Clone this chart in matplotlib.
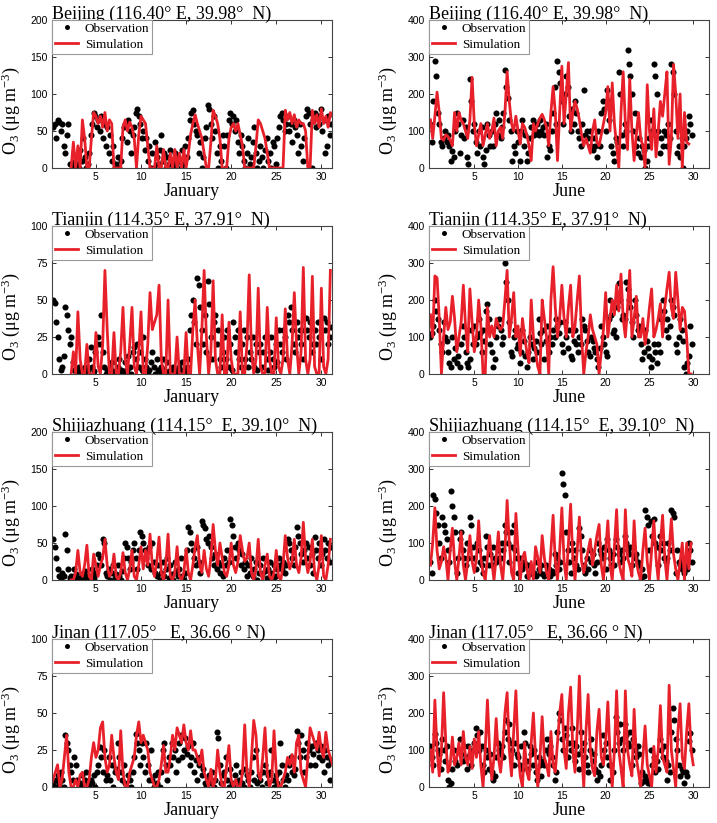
import numpy as np
import matplotlib
matplotlib.use('Agg')
import matplotlib.pyplot as plt

plt.rcParams['font.family'] = 'Liberation Serif'
plt.rcParams['mathtext.fontset'] = 'custom'
plt.rcParams['mathtext.rm'] = 'Liberation Serif'
plt.rcParams['mathtext.it'] = 'Liberation Serif:italic'

# hourly-ish values
# observations: 6 values per day (every 4 h), simulation: 4 per day (every 6 h)

# ---- Beijing, January ----
bj_jan_obs = [
    55, 60, 40, 65, 62, 50, 60, 30, 20, 45, 60, 5,
    5, 0, 8, 15, 5, 0, 25, 10, 40, 15, 0, 5,
    20, 45, 60, 75, 70, 55, 65, 50, 70, 40, 60, 30,
    55, 20, 45, 10, 30, 0, 5, 15, 0, 10, 40, 55,
    60, 35, 65, 50, 20, 45, 55, 75, 80, 70, 60, 40,
    50, 25, 40, 10, 30, 0, 20, 0, 35, 15, 5, 25,
    45, 10, 20, 0, 15, 5, 25, 10, 0, 20, 5, 15,
    10, 0, 25, 5, 30, 15, 40, 65, 75, 78, 60, 50,
    45, 20, 35, 0, 15, 40, 55, 85, 80, 60, 40, 70,
    50, 20, 0, 30, 10, 45, 30, 0, 45, 65, 75, 60,
    70, 50, 65, 35, 20, 45, 30, 10, 0, 20, 40, 5,
    15, 35, 55, 20, 0, 10, 30, 15, 0, 25, 40, 10,
    20, 0, 35, 30, 5, 40, 55, 70, 75, 65, 50, 60,
    70, 50, 60, 35, 65, 55, 45, 20, 60, 30, 10, 40,
    70, 80, 75, 60, 0, 65, 75, 55, 70, 60, 80, 50,
    65, 20, 30, 70, 45, 60]
bj_jan_sim = [
    0, 35, 0, 30, 0, 65, 40, 0, 0, 40, 75, 70,
    60, 70, 55, 75, 50, 65, 60, 0, 0, 0, 0, 55,
    65, 50, 62, 55, 40, 0, 45, 70, 65, 60, 30, 0,
    0, 0, 30, 0, 0, 25, 0, 0, 20, 0, 25, 0,
    20, 0, 25, 0, 20, 45, 60, 72, 60, 50, 40, 20,
    0, 0, 35, 78, 70, 60, 40, 0, 0, 0, 40, 55,
    60, 50, 60, 45, 30, 0, 0, 0, 0, 0, 30, 65,
    60, 50, 40, 20, 0, 0, 0, 0, 0, 0, 0, 78,
    65, 75, 60, 72, 55, 65, 60, 60, 50, 0, 0, 78,
    60, 72, 55, 80, 60, 70, 55, 75, 70]

# ---- Beijing, June ----
bj_jun_obs = [
    120, 70, 180, 290, 250, 150, 120, 70, 60, 80, 100, 70,
    90, 60, 20, 45, 30, 100, 150, 120, 40, 90, 130, 80,
    110, 30, 10, 240, 180, 100, 120, 70, 40, 100, 60, 110,
    30, 10, 50, 120, 90, 60, 100, 60, 120, 150, 90, 130,
    80, 110, 150, 265, 220, 190, 130, 100, 20, 60, 40, 100,
    70, 20, 100, 130, 60, 90, 20, 40, 80, 110, 130, 90,
    100, 120, 90, 130, 100, 110, 90, 120, 30, 60, 50, 100,
    150, 220, 120, 290, 260, 230, 180, 120, 200, 250, 220, 140,
    100, 160, 120, 180, 150, 100, 80, 60, 120, 210, 90, 100,
    80, 100, 60, 50, 80, 60, 30, 100, 60, 150, 180, 160,
    100, 210, 130, 180, 60, 40, 20, 80, 70, 260, 200, 90,
    60, 120, 100, 320, 280, 250, 200, 100, 150, 60, 40, 80,
    30, 60, 50, 0, 20, 60, 80, 130, 100, 280, 250, 200,
    100, 40, 80, 60, 100, 90, 60, 120, 80, 280, 260, 200,
    100, 40, 60, 30, 80, 0, 60, 80, 100, 140, 120, 90]
bj_jun_sim = [
    130, 80, 140, 205, 150, 80, 75, 90, 85, 75, 60, 150,
    100, 150, 130, 120, 100, 80, 130, 245, 120, 60, 90, 120,
    60, 90, 120, 80, 100, 135, 60, 100, 110, 80, 150, 260,
    180, 120, 100, 140, 100, 65, 120, 110, 90, 60, 20, 120,
    100, 120, 135, 145, 130, 110, 60, 150, 220, 150, 20, 150,
    275, 120, 200, 285, 100, 150, 180, 160, 130, 90, 60, 80,
    60, 40, 100, 130, 70, 60, 90, 120, 150, 220, 100, 230,
    120, 60, 0, 150, 260, 120, 50, 240, 100, 20, 90, 150,
    80, 60, 0, 225, 100, 50, 160, 30, 100, 180, 140, 200,
    260, 10, 80, 280, 200, 80, 200, 0, 150, 70, 65]

# ---- Tianjin, January ----
tj_jan_obs = [
    50, 48, 35, 25, 10, 3, 5, 12, 45, 40, 30, 20,
    25, 8, 3, 0, 2, 5, 0, 3, 2, 5, 0, 3,
    10, 18, 5, 2, 15, 20, 25, 20, 40, 15, 5, 0,
    3, 0, 5, 8, 2, 0, 0, 5, 10, 3, 0, 2,
    8, 3, 12, 5, 0, 15, 18, 10, 20, 5, 15, 3,
    25, 10, 5, 0, 3, 8, 15, 5, 0, 10, 3, 2,
    5, 10, 3, 0, 8, 2, 0, 3, 5, 2, 0, 3,
    5, 2, 8, 3, 0, 5, 10, 30, 40, 50, 35, 20,
    65, 60, 45, 30, 20, 40, 15, 63, 47, 25, 10, 35,
    40, 20, 30, 10, 5, 15, 25, 10, 30, 5, 20, 3,
    35, 25, 15, 30, 10, 5, 20, 30, 10, 25, 5, 15,
    10, 25, 5, 20, 3, 15, 20, 5, 15, 25, 10, 3,
    15, 25, 10, 5, 20, 8, 30, 20, 15, 30, 25, 10,
    40, 35, 45, 30, 20, 15, 35, 25, 30, 20, 10, 30,
    38, 30, 25, 35, 15, 20, 30, 20, 35, 25, 10, 30,
    38, 30, 35, 20, 25, 32]
tj_jan_sim = [
    0, 15, 0, 42, 10, 0, 0, 20, 0, 0, 0, 28,
    5, 0, 20, 70, 30, 0, 0, 28, 0, 0, 15, 45,
    10, 0, 20, 45, 5, 0, 15, 42, 0, 0, 20, 55,
    30, 35, 40, 60, 10, 0, 0, 50, 0, 0, 0, 25,
    0, 0, 0, 28, 0, 0, 30, 50, 20, 0, 30, 70,
    25, 0, 15, 63, 10, 0, 0, 40, 0, 0, 35, 10,
    0, 0, 0, 42, 0, 0, 20, 67, 15, 0, 10, 58,
    5, 0, 0, 45, 10, 0, 0, 38, 5, 0, 10, 44,
    10, 0, 20, 55, 20, 0, 15, 72, 10, 0, 10, 66,
    5, 0, 0, 58, 5, 0, 10, 70]

# ---- Tianjin, June ----
tj_jun_obs = [
    100, 110, 130, 200, 170, 150, 120, 80, 60, 140, 100, 90,
    60, 30, 20, 100, 40, 70, 30, 50, 20, 80, 130, 100,
    60, 30, 20, 40, 120, 80, 130, 80, 100, 150, 110, 60,
    120, 90, 170, 190, 150, 80, 60, 20, 40, 100, 130, 150,
    120, 80, 100, 300, 250, 200, 140, 60, 50, 100, 120, 70,
    80, 30, 60, 120, 90, 50, 20, 60, 100, 80, 40, 70,
    90, 60, 150, 110, 80, 120, 40, 90, 130, 60, 100, 80,
    120, 100, 150, 130, 110, 140, 80, 60, 140, 100, 70, 120,
    50, 40, 90, 120, 80, 60, 100, 80, 150, 130, 120, 90,
    60, 50, 100, 90, 70, 60, 40, 20, 70, 130, 100, 80,
    60, 50, 150, 200, 160, 110, 120, 100, 180, 246, 200, 150,
    160, 150, 250, 230, 200, 180, 140, 100, 200, 160, 120, 130,
    80, 40, 60, 120, 90, 70, 50, 20, 40, 80, 60, 30,
    80, 60, 150, 200, 170, 120, 150, 100, 130, 200, 180, 160,
    80, 60, 100, 150, 120, 90, 20, 0, 30, 50, 130, 80]
tj_jun_sim = [
    160, 100, 265, 260, 150, 0, 100, 180, 120, 140, 210, 150,
    60, 100, 140, 240, 130, 60, 230, 140, 60, 100, 200, 130,
    0, 0, 180, 100, 130, 100, 150, 130, 120, 130, 200, 280,
    100, 150, 220, 100, 130, 50, 150, 100, 60, 30, 200, 100,
    60, 20, 0, 200, 150, 100, 0, 200, 290, 180, 100, 150,
    240, 150, 100, 180, 240, 100, 130, 200, 265, 100, 0, 60,
    100, 160, 120, 100, 80, 0, 60, 120, 220, 100, 150, 200,
    160, 240, 170, 270, 150, 100, 180, 280, 100, 150, 210, 100,
    100, 150, 80, 120, 180, 230, 100, 120, 150, 190, 100, 180,
    230, 275, 180, 150, 275, 200, 120, 180, 170, 100, 0, 0]

# ---- Shijiazhuang, January ----
sz_jan_obs = [
    55, 45, 30, 15, 5, 0, 10, 5, 62, 40, 15, 3,
    5, 0, 15, 8, 2, 0, 3, 8, 0, 12, 5, 2,
    0, 5, 15, 3, 10, 20, 35, 30, 20, 55, 50, 10,
    5, 15, 0, 10, 20, 3, 8, 20, 5, 0, 12, 30,
    50, 45, 30, 15, 25, 40, 50, 30, 15, 40, 65, 60,
    50, 40, 30, 20, 45, 15, 50, 25, 10, 5, 20, 0,
    10, 25, 5, 15, 30, 3, 20, 8, 0, 25, 12, 5,
    15, 30, 5, 0, 10, 40, 72, 65, 50, 40, 30, 20,
    45, 25, 10, 80, 75, 70, 55, 50, 60, 45, 30, 20,
    35, 15, 25, 10, 20, 5, 30, 20, 40, 25, 82, 75,
    60, 45, 30, 50, 40, 20, 35, 15, 25, 5, 20, 10,
    30, 5, 15, 25, 0, 10, 20, 8, 30, 12, 3, 15,
    25, 10, 0, 20, 5, 15, 30, 20, 15, 25, 10, 20,
    55, 50, 40, 30, 20, 45, 72, 60, 50, 35, 25, 40,
    50, 30, 45, 20, 35, 10, 58, 40, 30, 50, 20, 35,
    55, 40, 30, 50, 25, 45]
sz_jan_sim = [
    0, 0, 10, 40, 10, 5, 20, 47, 5, 0, 35, 20,
    5, 20, 30, 55, 20, 5, 10, 35, 5, 0, 10, 37,
    10, 0, 15, 40, 5, 0, 20, 45, 15, 40, 20, 62,
    20, 5, 25, 58, 10, 0, 20, 62, 5, 0, 10, 45,
    5, 0, 10, 42, 10, 0, 20, 45, 60, 20, 10, 40,
    15, 5, 30, 75, 40, 20, 50, 30, 10, 5, 20, 50,
    20, 10, 25, 60, 40, 25, 30, 50, 10, 0, 15, 55,
    10, 0, 20, 35, 5, 0, 10, 40, 5, 0, 20, 60,
    30, 15, 25, 55, 20, 10, 30, 78, 30, 10, 25, 55,
    10, 0, 20, 60, 5, 0, 20, 55]

# ---- Shijiazhuang, June ----
sz_jun_obs = [
    50, 20, 230, 220, 180, 150, 100, 60, 170, 150, 130, 110,
    80, 50, 240, 200, 170, 130, 20, 60, 110, 130, 80, 60,
    40, 100, 60, 170, 150, 90, 60, 30, 100, 80, 50, 40,
    20, 60, 120, 90, 40, 70, 40, 90, 60, 50, 80, 60,
    60, 100, 80, 150, 130, 100, 50, 130, 90, 150, 80, 60,
    20, 60, 40, 30, 50, 40, 10, 40, 20, 30, 15, 20,
    10, 50, 30, 20, 40, 15, 10, 40, 20, 30, 10, 25,
    20, 70, 40, 60, 30, 50, 290, 260, 230, 130, 80, 50,
    20, 100, 60, 80, 40, 30, 140, 120, 80, 40, 20, 60,
    30, 80, 50, 70, 40, 20, 50, 100, 80, 70, 60, 90,
    30, 110, 80, 60, 40, 70, 40, 110, 90, 70, 50, 80,
    60, 120, 100, 80, 70, 90, 40, 90, 60, 70, 50, 40,
    0, 30, 10, 190, 170, 150, 80, 160, 120, 165, 100, 90,
    40, 120, 80, 100, 60, 50, 60, 100, 80, 190, 180, 170,
    20, 80, 50, 40, 30, 60, 20, 40, 30, 100, 80, 50]
sz_jun_sim = [
    40, 100, 195, 80, 30, 50, 90, 60, 0, 80, 140, 50,
    0, 60, 130, 40, 0, 50, 120, 50, 20, 60, 160, 60,
    20, 0, 60, 120, 50, 0, 60, 130, 40, 0, 80, 215,
    100, 20, 0, 180, 80, 0, 60, 75, 30, 0, 50, 0,
    90, 60, 20, 120, 60, 20, 0, 80, 175, 50, 0, 80,
    195, 50, 0, 100, 205, 60, 0, 80, 170, 50, 20, 50,
    80, 110, 40, 80, 120, 150, 40, 0, 80, 160, 40, 0,
    90, 190, 50, 20, 0, 190, 60, 40, 10, 160, 50, 20,
    0, 80, 140, 50, 0, 80, 160, 60, 0, 100, 175, 60,
    0, 80, 165, 70, 30, 0, 50, 100, 0, 100, 30, 100]

# ---- Jinan, January ----
jn_jan_obs = [
    3, 0, 5, 8, 2, 10, 5, 0, 35, 30, 25, 15,
    10, 5, 20, 15, 5, 0, 3, 8, 0, 5, 10, 2,
    0, 5, 3, 8, 0, 10, 15, 27, 20, 10, 25, 5,
    8, 20, 5, 15, 0, 10, 12, 30, 20, 10, 5, 15,
    3, 0, 8, 5, 0, 10, 20, 36, 30, 25, 15, 30,
    20, 10, 30, 15, 5, 25, 5, 0, 8, 3, 10, 0,
    10, 25, 30, 15, 5, 20, 15, 30, 20, 25, 10, 18,
    30, 35, 20, 25, 33, 22, 28, 15, 20, 30, 10, 18,
    5, 15, 20, 8, 12, 3, 0, 5, 8, 3, 10, 0,
    5, 37, 33, 15, 3, 8, 10, 20, 5, 0, 12, 3,
    0, 8, 15, 3, 5, 10, 3, 0, 12, 8, 5, 0,
    10, 20, 5, 25, 3, 8, 5, 0, 10, 15, 3, 8,
    10, 25, 5, 0, 8, 3, 10, 30, 15, 5, 0, 8,
    5, 15, 20, 10, 8, 12, 38, 30, 20, 35, 25, 10,
    20, 30, 25, 15, 28, 22, 15, 30, 25, 20, 28, 18,
    10, 25, 20, 15, 5, 18]
jn_jan_sim = [
    0, 5, 10, 15, 0, 5, 20, 35, 10, 0, 0, 5,
    0, 8, 10, 0, 0, 5, 20, 30, 20, 25, 40, 44,
    20, 10, 15, 35, 20, 10, 5, 38, 10, 0, 0, 10,
    15, 20, 35, 44, 30, 35, 30, 25, 10, 5, 0, 0,
    5, 15, 28, 10, 10, 20, 35, 25, 40, 35, 30, 42,
    30, 25, 38, 25, 25, 20, 15, 25, 10, 5, 0, 12,
    0, 5, 25, 10, 0, 0, 15, 28, 5, 0, 5, 0,
    0, 10, 42, 10, 0, 20, 45, 35, 10, 5, 20, 40,
    10, 0, 5, 38, 10, 0, 0, 5, 10, 20, 15, 22,
    10, 30, 35, 10, 5, 0, 20, 40, 35, 30, 25, 37,
    25, 20, 37, 25, 20, 15]

# ---- Jinan, June ----
jn_jun_obs = [
    110, 80, 60, 142, 120, 100, 90, 50, 130, 100, 70, 110,
    20, 0, 10, 50, 100, 70, 60, 100, 130, 90, 70, 110,
    80, 50, 110, 90, 60, 100, 120, 160, 140, 100, 150, 110,
    60, 40, 100, 80, 50, 90, 40, 20, 30, 80, 120, 100,
    90, 110, 80, 150, 181, 130, 170, 120, 100, 60, 120, 90,
    80, 60, 110, 50, 148, 120, 70, 50, 110, 90, 60, 100,
    40, 20, 80, 60, 30, 70, 60, 100, 130, 90, 110, 80,
    60, 20, 40, 150, 200, 180, 130, 100, 160, 140, 80, 120,
    100, 160, 120, 70, 110, 90, 50, 150, 100, 120, 80, 60,
    40, 100, 130, 70, 90, 50, 20, 40, 30, 60, 140, 100,
    120, 80, 60, 20, 60, 40, 100, 190, 150, 120, 170, 130,
    100, 170, 140, 120, 110, 150, 60, 130, 100, 80, 110, 90,
    10, 40, 15, 30, 20, 10, 20, 100, 60, 80, 40, 70,
    50, 130, 100, 80, 110, 70, 20, 60, 40, 150, 214, 180,
    130, 100, 60, 30, 50, 40, 10, 40, 30, 124, 147, 100]
jn_jun_sim = [
    100, 40, 235, 100, 30, 100, 255, 120, 40, 60, 135, 60,
    80, 120, 60, 150, 80, 60, 110, 50, 130, 80, 150, 60,
    0, 100, 235, 100, 20, 80, 185, 80, 40, 100, 200, 255,
    100, 30, 150, 260, 100, 30, 0, 120, 40, 20, 120, 200,
    80, 0, 80, 190, 80, 60, 30, 150, 60, 40, 120, 200,
    250, 100, 50, 200, 270, 100, 40, 150, 300, 100, 0, 150,
    250, 100, 50, 30, 150, 210, 80, 60, 120, 230, 90, 0,
    100, 260, 100, 50, 0, 260, 100, 60, 30, 210, 80, 40,
    0, 80, 165, 60, 30, 0, 110, 40, 100, 220, 80, 60,
    40, 275, 100, 50, 0, 150, 225, 80, 50, 150, 225, 100,
    60]

titles = ['Beijing (116.40\u00b0 E, 39.98\u00b0  N)',
          'Tianjin (114.35\u00b0 E, 37.91\u00b0  N)',
          'Shijiazhuang (114.15\u00b0  E, 39.10\u00b0  N)',
          'Jinan (117.05\u00b0   E, 36.66 \u00b0 N)']

jan_panels = [(bj_jan_obs, bj_jan_sim, 2.25, 200),
              (tj_jan_obs, tj_jan_sim, 2.25, 100),
              (sz_jan_obs, sz_jan_sim, 2.25, 200),
              (jn_jan_obs, jn_jan_sim, 0.0, 100)]
jun_panels = [(bj_jun_obs, bj_jun_sim, 0.0, 400),
              (tj_jun_obs, tj_jun_sim, 0.0, 400),
              (sz_jun_obs, sz_jun_sim, 0.0, 400),
              (jn_jun_obs, jn_jun_sim, 0.0, 400)]

red = '#e8202a'
W, H = 717, 823
fig = plt.figure(figsize=(W / 100, H / 100), dpi=100)
ax_left = [52 / W, 429 / W]
ax_bottom = [1 - 168 / H, 1 - 374 / H, 1 - 580 / H, 1 - 787 / H]
ax_w = 280 / W
ax_h = 148 / H

for col, (panels, month, obs_t0, xlim) in enumerate([
        (jan_panels, 'January', 0.25, (0.13, 31.18)),
        (jun_panels, 'June', 0.0, (-0.17, 31.8))]):
    for row, (obs, sim, sim_t0, ymax) in enumerate(panels):
        ax = fig.add_axes([ax_left[col], ax_bottom[row], ax_w, ax_h])
        t_obs = obs_t0 + np.arange(len(obs)) / 6.0
        t_sim = sim_t0 + np.arange(len(sim)) * 0.25
        ax.plot(t_obs, obs, 'o', color='black', ms=4.4, mec='none',
                label='Observation')
        ax.plot(t_sim, sim, '-', color=red, lw=2.0, label='Simulation')

        ax.set_xlim(*xlim)
        ax.set_ylim(0, ymax)
        ax.set_xticks([5, 10, 15, 20, 25, 30])
        ax.set_yticks(np.linspace(0, ymax, 5))
        ax.set_yticklabels([str(int(v)) for v in np.linspace(0, ymax, 5)])
        ax.tick_params(direction='in', length=3, width=0.7, top=True,
                       right=True, labelsize=7.5, pad=3, colors='#333333',
                       labelcolor='black')
        for lab in ax.get_xticklabels() + ax.get_yticklabels():
            lab.set_family('Liberation Sans')
        for sp in ax.spines.values():
            sp.set_linewidth(0.8)
            sp.set_color('#444444')

        ax.set_title(titles[row], loc='left', fontsize=13, pad=0.5)
        ax.set_xlabel(month, fontsize=13, labelpad=0.5)
        ax.set_ylabel('O$_3$ (\u03bcg m$^{-3}$)', fontsize=13)
        ax.yaxis.set_label_coords(-0.108, 0.39)

        leg = ax.legend(loc='upper left', fontsize=9.5, numpoints=1,
                        borderaxespad=0, borderpad=0.2, labelspacing=0.3,
                        handlelength=1.8, handletextpad=0.5,
                        fancybox=False, framealpha=1)
        leg.get_frame().set_edgecolor('#999999')
        leg.get_frame().set_linewidth(0.8)
        leg.legend_handles[0].set_markersize(3.6)

fig.savefig('out.png', dpi=100)
